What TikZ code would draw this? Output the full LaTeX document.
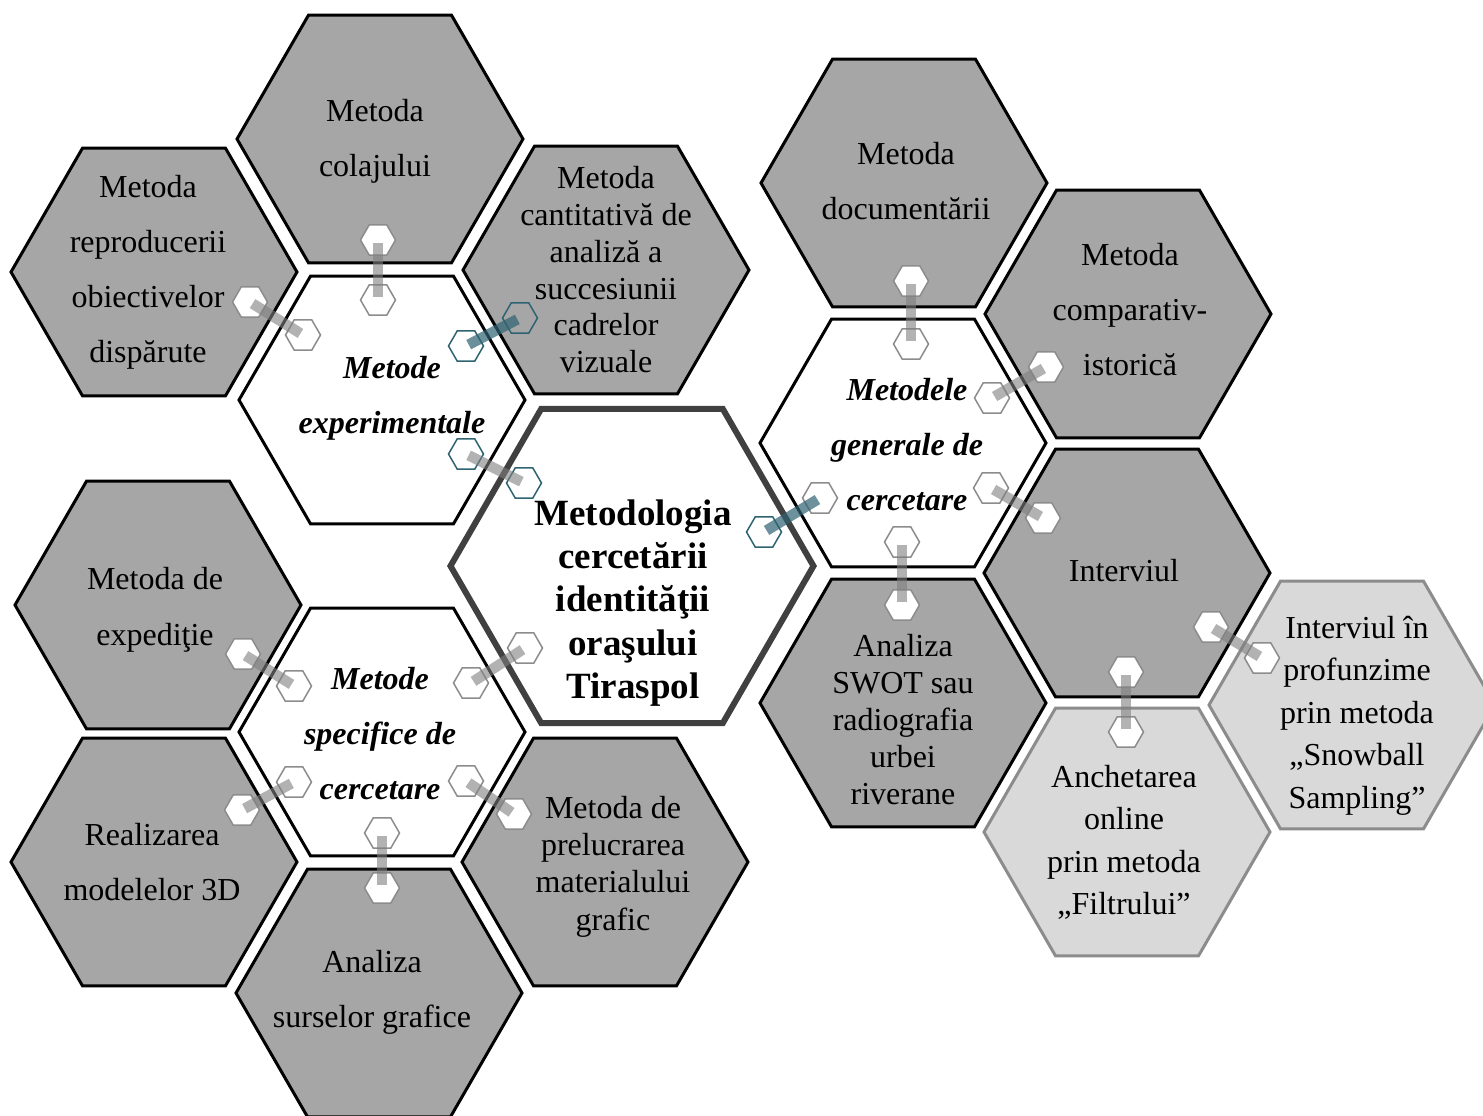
\documentclass[tikz,border=0pt]{standalone}
\usepackage{fontspec}
\setmainfont{Liberation Serif}
\definecolor{hexgray}{HTML}{A6A6A6}
\definecolor{hexlight}{HTML}{D9D9D9}
\definecolor{hexlightline}{HTML}{8C8C8C}
\definecolor{coreline}{HTML}{404040}
\definecolor{linkteal}{HTML}{2E6372}
\definecolor{linkgray}{HTML}{8C8C8C}
\definecolor{bargraycol}{HTML}{7F7F7F}
\newcommand\HexAt[3]{\path[#1, shift={(#2)}] (0:#3pt) -- (60:#3pt) -- (120:#3pt) -- (180:#3pt) -- (240:#3pt) -- (300:#3pt) -- cycle;}
\tikzset{
  grayhex/.style={draw=black, line width=3pt, fill=hexgray},
  whitehex/.style={draw=black, line width=3pt, fill=white},
  corehex/.style={draw=coreline, line width=6pt, fill=white},
  lighthex/.style={draw=hexlightline, line width=3pt, fill=hexlight},
  smallgray/.style={draw=linkgray, line width=1.5pt, fill=white},
  smallteal/.style={draw=linkteal, line width=1.5pt},
  bargray/.style={draw=bargraycol, line width=10.5pt, draw opacity=0.6, shorten <=3pt, shorten >=3pt},
  barteal/.style={draw=linkteal, line width=10.5pt, draw opacity=0.7, shorten <=3pt, shorten >=3pt},
  txtbase/.style={align=center, inner sep=0pt, yshift=-3.5pt},
  txt/.style={txtbase, font=\fontsize{32}{55}\selectfont},
  txtdense/.style={txtbase, font=\fontsize{32}{37}\selectfont},
  txtmid/.style={txtbase, font=\fontsize{32}{42.5}\selectfont},
  txtbi/.style={txtbase, font=\fontsize{32}{55}\selectfont\bfseries\itshape},
  txtcore/.style={txtbase, font=\fontsize{37}{43.25}\selectfont\bfseries},
}
\begin{document}
\begin{tikzpicture}[x=1pt,y=-1pt]
\useasboundingbox (0,0) rectangle (1483,1116);
\clip (0,0) rectangle (1483,1116);
\fill[white] (0,0) rectangle (1483,1116);
% centres of the large hexagons
\coordinate (colaj) at (380,139);
\coordinate (repro) at (154,272);
\coordinate (exper) at (382,400);
\coordinate (cant) at (606,270);
\coordinate (core) at (632,566);
\coordinate (docu) at (904,183);
\coordinate (comp) at (1128,314);
\coordinate (gen) at (903,443);
\coordinate (interv) at (1127,573);
\coordinate (swot) at (903,703);
\coordinate (snow) at (1352,705);
\coordinate (anch) at (1127,832);
\coordinate (exped) at (158,605);
\coordinate (spec) at (382,732);
\coordinate (model) at (154,862);
\coordinate (prel) at (605,862);
\coordinate (surse) at (379,993);
% large hexagons
\HexAt{grayhex}{colaj}{143}
\HexAt{grayhex}{repro}{143}
\HexAt{whitehex}{exper}{143}
\HexAt{grayhex}{cant}{143}
\HexAt{grayhex}{docu}{143}
\HexAt{grayhex}{comp}{143}
\HexAt{whitehex}{gen}{143}
\HexAt{grayhex}{interv}{143}
\HexAt{grayhex}{swot}{143}
\HexAt{lighthex}{snow}{143}
\HexAt{lighthex}{anch}{143}
\HexAt{grayhex}{exped}{143}
\HexAt{whitehex}{spec}{143}
\HexAt{grayhex}{model}{143}
\HexAt{grayhex}{prel}{143}
\HexAt{grayhex}{surse}{143}
\HexAt{corehex}{core}{181.5}
% texts
\node[txt] (t-colaj) at (375,137.5) {Metoda\\colajului};
\node[txt] (t-repro) at (148,268.5) {Metoda\\reproducerii\\obiectivelor\\dispărute};
\node[txtbi] (t-exper) at (392,394.5) {Metode\\experimentale};
\node[txtdense, font=\fontsize{32}{36.8}\selectfont] (t-cant) at (606,266.3) {Metoda\\cantitativă de\\analiză a\\succesiunii\\cadrelor\\vizuale};
\node[txtcore] (t-core) at (633,599.5) {Metodologia\\cercetării\\identităţii\\oraşului\\Tiraspol};
\node[txt] (t-docu) at (906,177.8) {Metoda\\documentării};
\node[txt] (t-comp) at (1130,305.8) {Metoda\\comparativ-\\istorică};
\node[txtbi] (t-gen) at (907,441.3) {Metodele\\generale de\\cercetare};
\node[txt] (t-interv) at (1124,567) {Interviul};
\node[txtdense] (t-swot) at (903,716.3) {Analiza\\SWOT sau\\radiografia\\urbei\\riverane};
\node[txtmid] (t-snow) at (1357,712) {Interviul în\\profunzime\\prin metoda\\„Snowball\\Sampling”};
\node[txtmid] (t-anch) at (1124,839) {Anchetarea\\online\\prin metoda\\„Filtrului”};
\node[txt, font=\fontsize{32}{56}\selectfont] (t-exped) at (155,606) {Metoda de\\expediţie};
\node[txtbi] (t-spec) at (380,730.3) {Metode\\specifice de\\cercetare};
\node[txt] (t-model) at (152,858.8) {Realizarea\\modelelor 3D};
\node[txtdense, font=\fontsize{32}{37.3}\selectfont] (t-prel) at (613,863) {Metoda de\\prelucrarea\\materialului\\grafic};
\node[txt] (t-surse) at (372,988.5) {Analiza\\surselor grafice};
% connector end points
\coordinate (a1) at (378,240);  \coordinate (a2) at (378,300);
\coordinate (b1) at (250,302);  \coordinate (b2) at (303,335);
\coordinate (c1) at (466,346);  \coordinate (c2) at (520,318);
\coordinate (d1) at (466,454);  \coordinate (d2) at (524,483);
\coordinate (e1) at (764,532);  \coordinate (e2) at (820,498);
\coordinate (f1) at (911,281);  \coordinate (f2) at (911,344);
\coordinate (g1) at (992,398);  \coordinate (g2) at (1046,367);
\coordinate (h1) at (991,488);  \coordinate (h2) at (1043,518);
\coordinate (i1) at (902,542);  \coordinate (i2) at (902,605);
\coordinate (j1) at (1211,627); \coordinate (j2) at (1262,658);
\coordinate (k1) at (1126,672); \coordinate (k2) at (1126,732);
\coordinate (l1) at (243,654);  \coordinate (l2) at (294,686);
\coordinate (m1) at (471,683);  \coordinate (m2) at (525,648);
\coordinate (n1) at (294,782);  \coordinate (n2) at (242,810);
\coordinate (o1) at (466,781);  \coordinate (o2) at (514,814);
\coordinate (p1) at (382,833);  \coordinate (p2) at (382,888);
% small hexagons
\foreach \c in {a1,a2,b1,b2,e2,f1,f2,g1,g2,h1,h2,i1,i2,j1,j2,k1,k2,l1,l2,m1,m2,n1,n2,o1,o2,p1,p2}{\HexAt{smallgray}{\c}{17.5}}
\foreach \c in {c1,c2,d1,d2,e1}{\HexAt{smallteal}{\c}{17.5}}
% bars
\draw[bargray] (a1) -- (a2);
\draw[bargray] (b1) -- (b2);
\draw[barteal] (c1) -- (c2);
\draw[bargray] (d1) -- (d2);
\draw[barteal] (e1) -- (e2);
\draw[bargray] (f1) -- (f2);
\draw[bargray] (g1) -- (g2);
\draw[bargray] (h1) -- (h2);
\draw[bargray] (i1) -- (i2);
\draw[bargray] (j1) -- (j2);
\draw[bargray] (k1) -- (k2);
\draw[bargray] (l1) -- (l2);
\draw[bargray] (m1) -- (m2);
\draw[bargray] (n1) -- (n2);
\draw[bargray] (o1) -- (o2);
\draw[bargray] (p1) -- (p2);
\end{tikzpicture}
\end{document}
